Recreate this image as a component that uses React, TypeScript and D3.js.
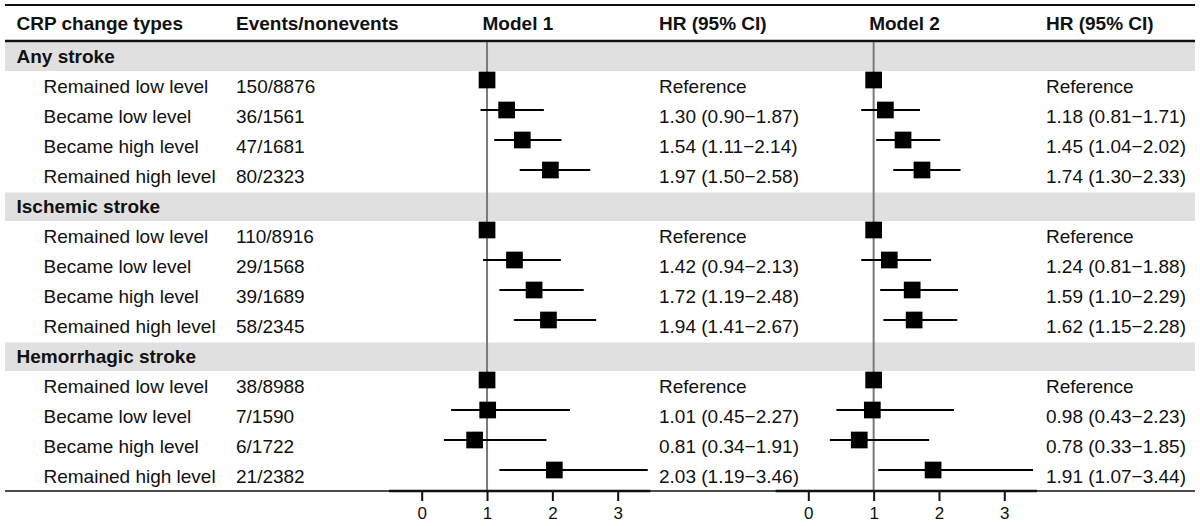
import React, { useEffect, useRef } from 'react';
import * as d3 from 'd3';

// table data
const groups = ['Any stroke', 'Ischemic stroke', 'Hemorrhagic stroke'];
const changeTypes = ['Remained low level', 'Became low level', 'Became high level', 'Remained high level'];
const events = [
  ['150/8876', '36/1561', '47/1681', '80/2323'],
  ['110/8916', '29/1568', '39/1689', '58/2345'],
  ['38/8988', '7/1590', '6/1722', '21/2382'],
];
// [hr, lower, upper]; first row of each group is the reference
const model1 = [
  [[1, 1, 1], [1.30, 0.90, 1.87], [1.54, 1.11, 2.14], [1.97, 1.50, 2.58]],
  [[1, 1, 1], [1.42, 0.94, 2.13], [1.72, 1.19, 2.48], [1.94, 1.41, 2.67]],
  [[1, 1, 1], [1.01, 0.45, 2.27], [0.81, 0.34, 1.91], [2.03, 1.19, 3.46]],
];
const model2 = [
  [[1, 1, 1], [1.18, 0.81, 1.71], [1.45, 1.04, 2.02], [1.74, 1.30, 2.33]],
  [[1, 1, 1], [1.24, 0.81, 1.88], [1.59, 1.10, 2.29], [1.62, 1.15, 2.28]],
  [[1, 1, 1], [0.98, 0.43, 2.23], [0.78, 0.33, 1.85], [1.91, 1.07, 3.44]],
];
const tickValues = [0, 1, 2, 3];
const headers = ['CRP change types', 'Events/nonevents', 'Model 1', 'HR (95% CI)', 'Model 2', 'HR (95% CI)'];

const W = 1200;
const H = 526;
const FONT = '"Liberation Sans", Arial, sans-serif';

const fmt = (v: number) => v.toFixed(2);

const App: React.FC = () => {
  const svgRef = useRef<SVGSVGElement | null>(null);

  useEffect(() => {
    document.body.style.margin = '0';
    if (!svgRef.current) return;
    const svg = d3.select(svgRef.current);
    svg.selectAll('*').remove();

    const left = 5;
    const right = 1195;
    const top = 41;
    const bottom = 491;

    // one band per line: group header + 4 rows, 3 groups
    const rowIds = d3.range(groups.length * (changeTypes.length + 1));
    const y = d3.scaleBand<number>().domain(rowIds).range([top, bottom]);
    const rowIndex = (g: number, i: number) => g * (changeTypes.length + 1) + 1 + i;

    const x1 = d3.scaleLinear().domain([0, 3]).range([421.7, 617.7]);
    const x2 = d3.scaleLinear().domain([0, 3]).range([808.3, 1004.3]);

    const col = { type: 16.5, sub: 43.5, events: 236, m1: x1(1) - 4.5, hr1: 659, m2: x2(1) - 4.5, hr2: 1046 };

    // group bands
    groups.forEach((g, gi) => {
      const yy = y(gi * (changeTypes.length + 1)) as number;
      svg.append('rect')
        .attr('x', left).attr('y', yy + 1.5)
        .attr('width', right - left).attr('height', y.bandwidth() - 1.5)
        .attr('fill', '#e0e0e0');
      svg.append('text')
        .attr('x', col.type).attr('y', yy + 21.7)
        .attr('font-weight', 'bold')
        .text(g);
    });

    // horizontal rules
    svg.append('line').attr('x1', left).attr('x2', right).attr('y1', 5).attr('y2', 5)
      .attr('stroke', '#111').attr('stroke-width', 2);
    svg.append('line').attr('x1', left).attr('x2', right).attr('y1', top).attr('y2', top)
      .attr('stroke', '#111').attr('stroke-width', 2.5);
    svg.append('line').attr('x1', left).attr('x2', right).attr('y1', bottom).attr('y2', bottom)
      .attr('stroke', '#111').attr('stroke-width', 1.5);

    // headers
    const headerX = [col.type, col.events, col.m1, col.hr1, col.m2, col.hr2];
    headers.forEach((h, i) => {
      svg.append('text').attr('x', headerX[i]).attr('y', 30)
        .attr('font-weight', 'bold').text(h);
    });

    // row labels
    groups.forEach((_, gi) => {
      changeTypes.forEach((t, i) => {
        const base = (y(rowIndex(gi, i)) as number) + 21.7;
        svg.append('text').attr('x', col.sub).attr('y', base).text(t);
        svg.append('text').attr('x', col.events).attr('y', base).text(events[gi][i]);
      });
    });

    const panel = (data: number[][][], x: d3.ScaleLinear<number, number>, hrX: number) => {
      const g = svg.append('g');
      // reference line at HR = 1
      g.append('line')
        .attr('x1', x(1)).attr('x2', x(1))
        .attr('y1', top + 1).attr('y2', bottom)
        .attr('stroke', '#7a7a7a').attr('stroke-width', 2);

      const box = 16.7;
      data.forEach((rows, gi) => {
        rows.forEach(([hr, lo, hi], i) => {
          const band = y(rowIndex(gi, i)) as number;
          const cy = band + 9;
          if (hi > lo) {
            g.append('line')
              .attr('x1', x(lo)).attr('x2', x(hi))
              .attr('y1', cy).attr('y2', cy)
              .attr('stroke', '#000').attr('stroke-width', 2);
          }
          g.append('rect')
            .attr('x', x(hr) - box / 2).attr('y', cy - box / 2)
            .attr('width', box).attr('height', box)
            .attr('fill', '#000');
          const label = i === 0 ? 'Reference' : `${fmt(hr)} (${fmt(lo)}\u2212${fmt(hi)})`;
          svg.append('text').attr('x', hrX).attr('y', band + 21.7).text(label);
        });
      });

      // axis
      g.append('line')
        .attr('x1', x(-0.5)).attr('x2', x(3.5))
        .attr('y1', bottom).attr('y2', bottom)
        .attr('stroke', '#111').attr('stroke-width', 2.5);
      const axis = g.append('g')
        .attr('transform', `translate(0,${bottom})`)
        .call(d3.axisBottom(x).tickValues(tickValues).tickFormat(d3.format('d')).tickSize(10).tickPadding(6));
      axis.select('.domain').remove();
      axis.selectAll('.tick line').attr('stroke', '#111').attr('stroke-width', 2);
      axis.selectAll('.tick text')
        .attr('fill', '#111')
        .attr('font-size', 17)
        .attr('font-family', FONT);
    };

    panel(model1, x1, col.hr1);
    panel(model2, x2, col.hr2);
  }, []);

  return (
    <svg
      ref={svgRef}
      width={W}
      height={H}
      viewBox={`0 0 ${W} ${H}`}
      style={{ display: 'block', background: '#fff' }}
      fontFamily={FONT}
      fontSize={19}
      fill="#111"
    />
  );
};

export default App;
